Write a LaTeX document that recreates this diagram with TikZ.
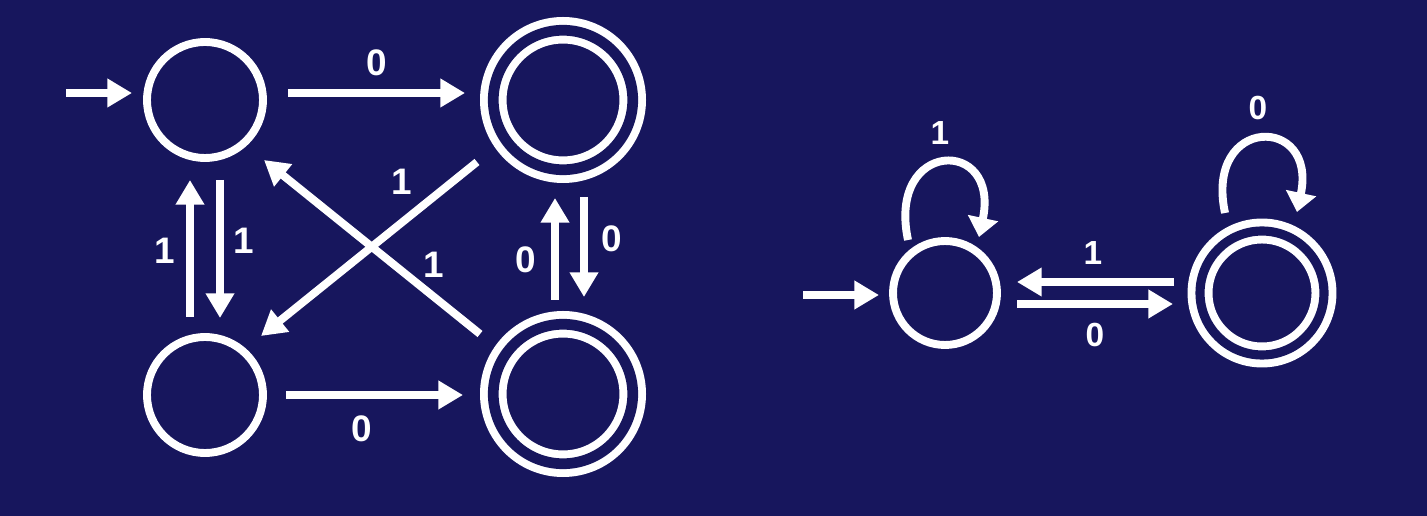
\documentclass[tikz,border=0pt]{standalone}
\usepackage{fontspec}
\setmainfont{Liberation Sans}
\usepackage{tikz}
\usetikzlibrary{arrows.meta,calc}
\definecolor{navybg}{HTML}{17165D}
\tikzset{
  state/.style={circle,draw=white,line width=4.5pt,inner sep=0pt,minimum size=2.32cm},
  accept/.style={circle,draw=white,line width=4.5pt,double=navybg,double distance=6.1pt,inner sep=0pt,minimum size=2.79cm},
  lbl/.style={text=white,inner sep=0pt,font=\fontsize{21}{25}\selectfont\bfseries},
  slbl/.style={text=white,inner sep=0pt,font=\fontsize{19}{23}\selectfont\bfseries},
  trans/.style={-{Triangle[length=14pt,width=15.5pt]},line width=4.5pt,draw=white},
  looptrans/.style={-{Triangle[length=11pt,width=17pt]},line width=4.5pt,draw=white}
}
\begin{document}
\begin{tikzpicture}[x=0.02cm,y=-0.02cm]
  \fill[navybg] (0,0) rectangle (1427,516);

  \node[state] (q0) at (205,100) {};
  \node[accept] (q1) at (563,100) {};
  \node[state] (q2) at (205,395) {};
  \node[accept] (q3) at (563,394) {};
  \coordinate (s0) at (66,93);

  \node[state,minimum size=2.08cm] (p0) at (945,293) {};
  \node[accept,minimum size=2.48cm,double distance=5.2pt] (p1) at (1262,293) {};
  \coordinate (s1) at (803,295);

  \draw[trans] (s0) -- ($(q0)+(-73,-7)$);
  \draw[trans] ($(q0)+(83,-7)$) -- ($(q1)+(-98,-7)$);
  \draw[trans] ($(q2)+(81,0)$) -- ($(q3)+(-100,1)$);
  \draw[trans] ($(q2)+(-15,-78)$) -- ($(q0)+(-15,80)$);
  \draw[trans] ($(q0)+(15,80)$) -- ($(q2)+(15,-77)$);
  \draw[trans] ($(q3)+(-8,-94)$) -- ($(q1)+(-8,98)$);
  \draw[trans] ($(q1)+(21,97)$) -- ($(q3)+(21,-97)$);
  \draw[trans] ($(q3)+(-83,-60)$) -- ($(q0)+(59,60)$);
  \draw[trans] ($(q1)+(-86,62)$) -- ($(q2)+(56,-59)$);

  \node[lbl] (a01) at (377,63) {0};
  \node[lbl] (a23) at (362,429) {0};
  \node[lbl] (a20) at (165,251) {1};
  \node[lbl] (a02) at (244,241) {1};
  \node[lbl] (a31) at (526,260) {0};
  \node[lbl] (a13) at (612,239) {0};
  \node[lbl] (a12) at (402,182) {1};
  \node[lbl] (a30) at (434,265) {1};

  \draw[trans] (s1) -- ($(p0)+(-66,2)$);
  \draw[trans] ($(p1)+(-88,-11)$) -- ($(p0)+(72,-11)$);
  \draw[trans] ($(p0)+(72,11)$) -- ($(p1)+(-89,11)$);
  \draw[looptrans] ($(p0)+(-37,-53)$) to[out=102,in=78,distance=2.06cm] ($(p0)+(34,-56)$);
  \draw[looptrans] ($(p1)+(-37,-80)$) to[out=102,in=78,distance=2.0cm] ($(p1)+(35,-81)$);

  \node[slbl] (b10) at (1093,253) {1};
  \node[slbl] (b01) at (1095,335) {0};
  \node[slbl] (b00) at (940,133) {1};
  \node[slbl] (b11) at (1258,108) {0};
\end{tikzpicture}
\end{document}
